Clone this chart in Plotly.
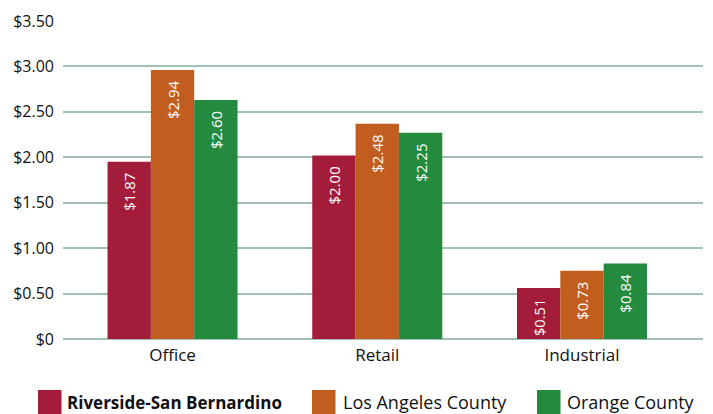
import plotly.graph_objects as go

categories = ["Office", "Retail", "Industrial"]
series_names = ["Riverside-San Bernardino", "Los Angeles County", "Orange County"]
series_colors = ["#a31c3a", "#c05d1f", "#238a3e"]
# bar heights as drawn in the reference
riverside = [1.95, 2.02, 0.56]
los_angeles = [2.96, 2.37, 0.75]
orange = [2.63, 2.27, 0.83]
# labels as printed on the bars
riverside_labels = ["$1.87", "$2.00", "$0.51"]
los_angeles_labels = ["$2.94", "$2.48", "$0.73"]
orange_labels = ["$2.60", "$2.25", "$0.84"]
y_tickvals = [0, 0.5, 1.0, 1.5, 2.0, 2.5, 3.0, 3.5]
y_ticktext = ["$0", "$0.50", "$1.00", "$1.50", "$2.00", "$2.50", "$3.00", "$3.50"]

# the page body has an 8px margin; the figure is sized so it ends at the window edge
OFF = 8
W, H = 713 - OFF, 414 - OFF
ML, MR, MT, MB = 63 - OFF, 10, 21 - OFF, 75
FONT = "Open Sans"
TXT = "#111111"

values = [riverside, los_angeles, orange]
labels = [riverside_labels, los_angeles_labels, orange_labels]

fig = go.Figure()
for name, color, vals, labs in zip(series_names, series_colors, values, labels):
    fig.add_trace(go.Bar(
        x=categories, y=vals, name=name,
        marker=dict(color=color, line=dict(width=0)),
        text=[l + "\u00a0\u00a0" for l in labs],
        textposition="inside", insidetextanchor="end", textangle=-90,
        textfont=dict(color="white", size=15, family=FONT),
        showlegend=False,
    ))

fig.update_layout(
    width=W, height=H,
    margin=dict(l=ML, r=MR, t=MT, b=MB),
    paper_bgcolor="white", plot_bgcolor="white",
    barmode="group", bargap=0.365, bargroupgap=0,
    font=dict(family=FONT, color=TXT),
)
fig.update_xaxes(
    range=[-0.535, 2.591], showgrid=False, zeroline=False,
    tickfont=dict(size=17, family=FONT, color=TXT),
    ticks="", showline=False, ticklabelstandoff=4, automargin=False,
)
fig.update_yaxes(
    range=[0, 3.5], tickvals=y_tickvals, ticktext=y_ticktext,
    showgrid=True, gridcolor="#9fc0b3", gridwidth=1.6,
    zeroline=True, zerolinecolor="#9fc0b3", zerolinewidth=1.6,
    tickfont=dict(size=16, family=FONT, color=TXT, weight=500),
    ticklabelstandoff=8, automargin=False,
)

pw = W - ML - MR
ph = H - MT - MB
# helpers converting page pixels to paper coordinates
def px_x(x):
    return (x - OFF - ML) / pw
def px_y(y):
    return (H - MB - (y - OFF)) / ph

leg_sq = [38, 312, 537]
leg_tx = [66, 342, 566]
for i, (name, color) in enumerate(zip(series_names, series_colors)):
    fig.add_shape(type="rect", xref="paper", yref="paper",
                  x0=px_x(leg_sq[i]), x1=px_x(leg_sq[i] + 23.5),
                  y0=px_y(415), y1=px_y(390),
                  fillcolor=color, line=dict(width=0))
    txt = "<b>" + name + "</b>" if i == 0 else name
    fig.add_annotation(xref="paper", yref="paper",
                       x=px_x(leg_tx[i]), y=px_y(402),
                       text=txt, showarrow=False, xanchor="left", yanchor="middle",
                       xshift=-1,
                       font=dict(size=18 if i else 17, family=FONT, color=TXT))

fig.write_html("out.html")
